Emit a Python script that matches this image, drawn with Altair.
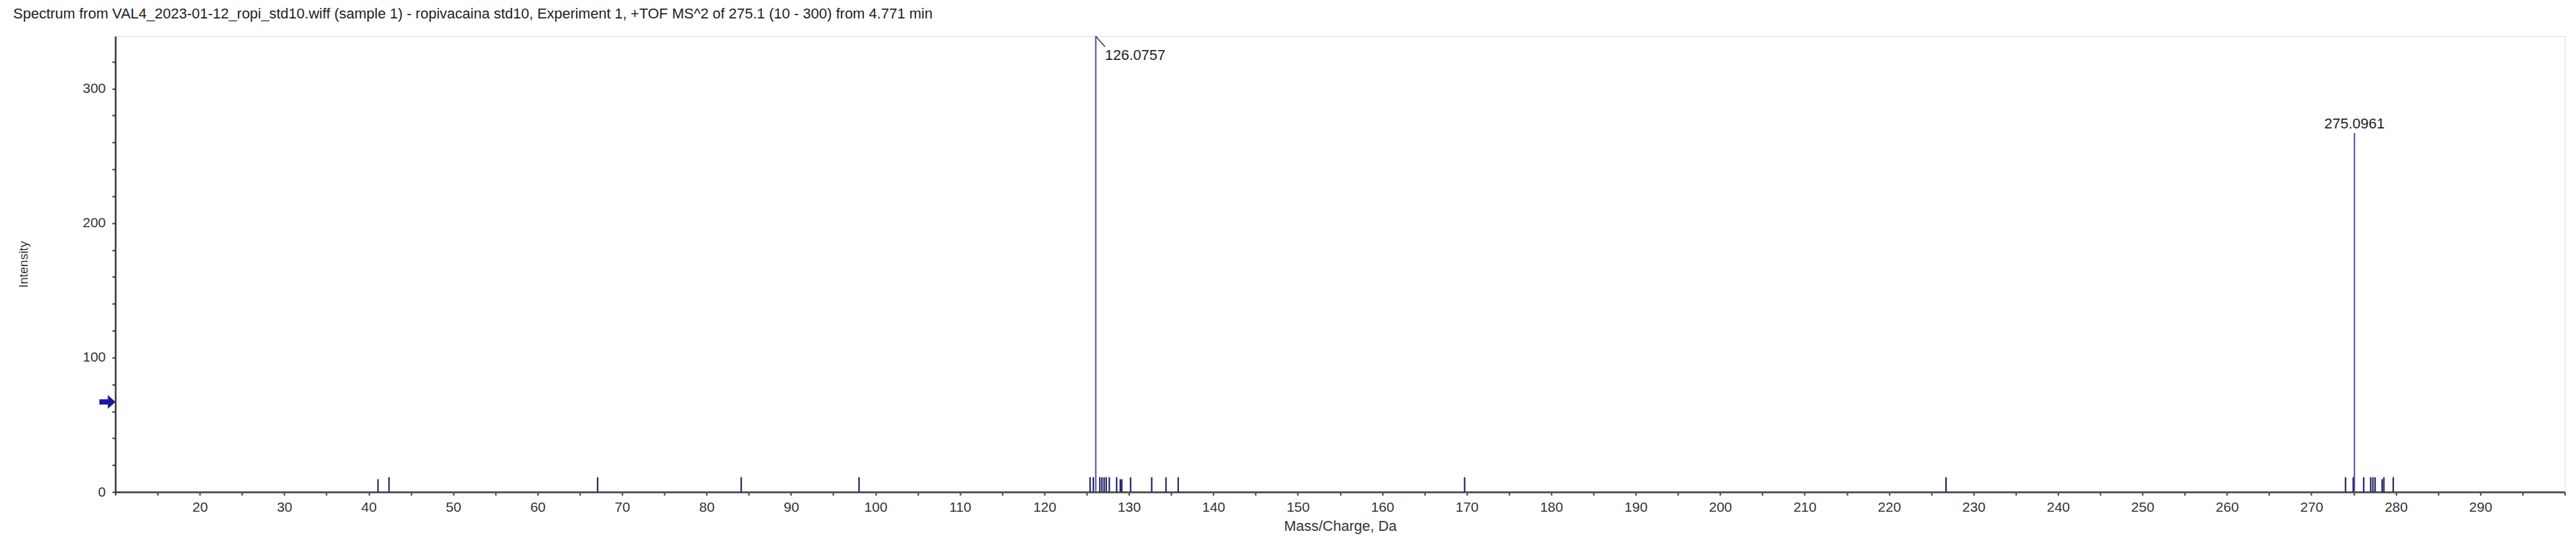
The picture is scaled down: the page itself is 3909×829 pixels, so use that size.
import altair as alt
import pandas as pd

# ---- data ----
mz = [41.1, 42.4, 67.1, 84.1, 98.05,
      125.41, 125.79, 126.0757, 126.56, 126.81, 127.07, 127.32, 127.68,
      128.55, 128.98, 129.16, 130.20, 132.70, 134.39, 135.84,
      169.75, 226.74,
      274.04, 274.95, 275.0961, 276.19, 277.02, 277.28, 277.54,
      278.37, 278.58, 279.69]
intensity = [9.5, 11, 11, 11, 11,
             11, 11, 339, 11, 11, 11, 11, 11,
             11, 9.5, 9.5, 11, 11, 11, 11,
             11, 11,
             11, 11, 267, 11, 11, 11, 11,
             9.5, 11, 11]
label_mz = [126.0757, 275.0961]
label_text = ["126.0757", "275.0961"]
threshold = [67]

x_domain = [10, 300]
y_domain = [0, 339]
x_tick_values = list(range(10, 301, 5))
y_tick_values = list(range(0, 340, 10))

title_text = ("Spectrum from VAL4_2023-01-12_ropi_std10.wiff (sample 1) - ropivacaina std10, "
              "Experiment 1, +TOF MS^2 of 275.1 (10 - 300) from 4.771 min")

peaks = pd.DataFrame({"mz": mz, "intensity": intensity})
peak_labels = pd.DataFrame({
    "mz": label_mz,
    "intensity": [intensity[mz.index(v)] for v in label_mz],
    "text": label_text,
})
thr = pd.DataFrame({"mz": [x_domain[0]], "intensity": threshold})

FONT = "Liberation Sans, Arial, sans-serif"

x_enc = alt.X("mz:Q",
              scale=alt.Scale(domain=x_domain, nice=False, zero=False),
              axis=alt.Axis(values=x_tick_values,
                            labelExpr="(datum.value % 10 == 0 && datum.value > 10 && datum.value < 300) ? datum.label : ''",
                            title="Mass/Charge, Da", grid=False,
                            tickSize=5, tickColor="#333", tickWidth=2,
                            domainColor="#555", domainWidth=3,
                            labelFont=FONT, labelFontSize=21, labelColor="#333",
                            labelPadding=7, labelOverlap=False, labelFlush=False,
                            titleFont=FONT, titleFontSize=22, titleFontWeight="normal",
                            titleColor="#333", titlePadding=8))
y_enc = alt.Y("intensity:Q",
              scale=alt.Scale(domain=y_domain, nice=False, zero=True),
              axis=alt.Axis(values=y_tick_values,
                            labelExpr="(datum.value % 50 == 0) ? datum.label : ''",
                            title="Intensity", grid=False,
                            tickSize=5, tickColor="#333", tickWidth=2,
                            domainColor="#333", domainWidth=2.5,
                            labelFont=FONT, labelFontSize=21, labelColor="#333",
                            labelPadding=10, labelOverlap=False, labelFlush=False,
                            titleFont=FONT, titleFontSize=19, titleFontWeight="normal",
                            titleColor="#333", titleX=-130))

sticks = alt.Chart(peaks).mark_rule(strokeWidth=2.2).encode(
    x=x_enc,
    y=y_enc,
    y2=alt.datum(0),
    color=alt.condition(alt.datum.intensity > 100, alt.value("#5a5a9e"), alt.value("#1e1e64")),
)

lbl_126 = alt.Chart(peak_labels).transform_filter(alt.datum.text == "126.0757").mark_text(
    align="left", baseline="alphabetic", dx=14, dy=36, font=FONT, fontSize=22, color="#222"
).encode(x="mz:Q", y="intensity:Q", text="text:N")

leader = alt.Chart(peak_labels).transform_filter(alt.datum.text == "126.0757").mark_rule(
    x2Offset=14, y2Offset=16, color="#333", strokeWidth=1.5
).encode(x="mz:Q", y="intensity:Q", x2="mz:Q", y2="intensity:Q")

lbl_275 = alt.Chart(peak_labels).transform_filter(alt.datum.text == "275.0961").mark_text(
    align="center", baseline="alphabetic", dy=-7, font=FONT, fontSize=22, color="#222"
).encode(x="mz:Q", y="intensity:Q", text="text:N")

arrow_path = "M -1 -0.32 L 0.05 -0.32 L 0.05 -0.85 L 1 0 L 0.05 0.85 L 0.05 0.32 L -1 0.32 Z"
arrow = alt.Chart(thr).mark_point(
    shape=arrow_path, filled=True, size=600, color="#1a1aa0", opacity=1, xOffset=-12
).encode(x="mz:Q", y="intensity:Q")

chart = alt.layer(sticks, leader, lbl_126, lbl_275, arrow).properties(
    width=3717, height=692,
    padding={"left": 167, "top": 47, "right": 5, "bottom": 66},
    autosize="none",
    title=alt.TitleParams(title_text, anchor="start", frame="group", dx=-155, dy=24, offset=28,
                          baseline="alphabetic", font=FONT, fontSize=22,
                          fontWeight="normal", color="#222"),
).configure_view(stroke=None).configure(background="white")

chart.save("out.html", embed_options={"renderer": "svg", "actions": False})
